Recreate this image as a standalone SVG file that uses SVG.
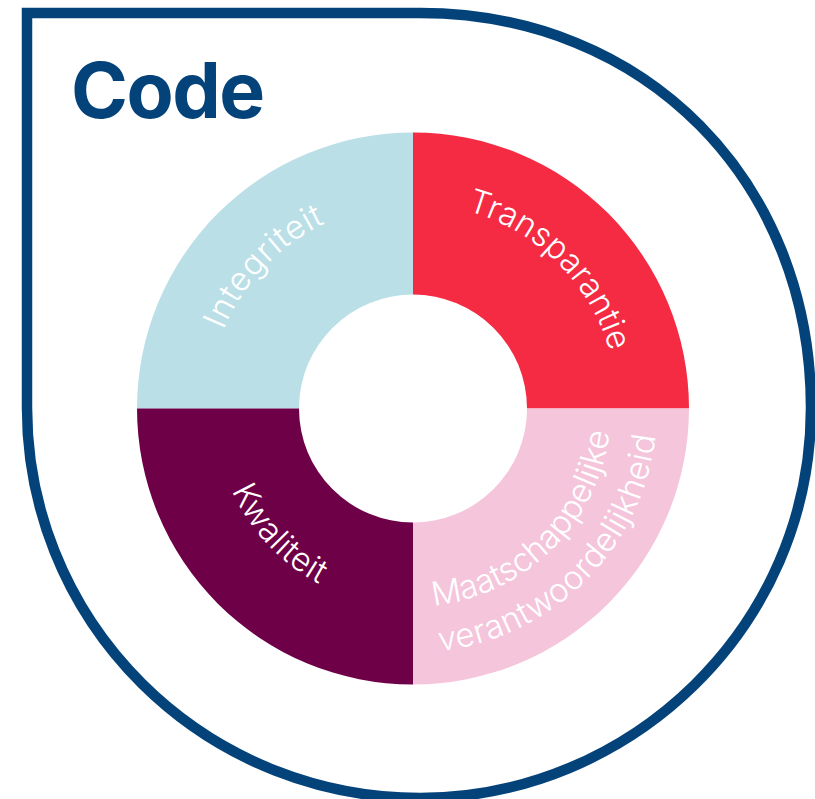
<svg xmlns="http://www.w3.org/2000/svg" width="815" height="799" viewBox="0 0 815 799">
<style>
.lab{font-family:"Inter","Liberation Sans",sans-serif;font-weight:300;font-size:33px;fill:#fff;text-anchor:middle}
</style>
<defs>
<path id="a2" d="M413 203.500A205 205 0 0 1 618 408.500"/>
<path id="a3" d="M214 408.500A199 199 0 0 0 413 607.500"/>
<path id="a4" d="M413 606.500A198 198 0 0 0 611 408.500"/>
<path id="a5" d="M413 652.500A244 244 0 0 0 657 408.500"/>
<path id="a6" d="M208 408.500A205 205 0 0 1 413 203.500"/>
</defs>
<rect width="815" height="799" fill="#fff"/>
<g id="frame"><path d="M27 13H420C645 13 811 181 811 408C811 627 630 798 420 798A393 390 0 0 1 27 408Z" fill="none" stroke="#04437a" stroke-width="10.500"/></g>
<g id="title"><text x="71" y="118" font-family="Inter,'Liberation Sans',sans-serif" font-weight="700" font-size="77" letter-spacing="-1.500" fill="#04437a">Code</text></g>
<g id="integriteit"><path d="M137 408.500A276 276 0 0 1 413 132.500V294.500A114 114 0 0 0 299 408.500Z" fill="#bbdfe7"/>
<text class="lab" letter-spacing="0.800"><textPath href="#a6" startOffset="48.500%">Integriteit</textPath></text></g>
<g id="transparantie"><path d="M413 132.500A276 276 0 0 1 689 408.500H527A114 114 0 0 0 413 294.500Z" fill="#f52a43"/>
<text class="lab"><textPath href="#a2" startOffset="49.500%">Transparantie</textPath></text></g>
<g id="maatschappelijke"><path d="M689 408.500A276 276 0 0 1 413 684.500V522.500A114 114 0 0 0 527 408.500Z" fill="#f5c5dc"/>
<text class="lab"><textPath href="#a4" startOffset="49.500%">Maatschappelijke</textPath></text>
<text class="lab" letter-spacing="0.500"><textPath href="#a5" startOffset="50%">verantwoordelijkheid</textPath></text></g>
<g id="kwaliteit"><path d="M137 408.500H299A114 114 0 0 0 413 522.500V684.500A276 276 0 0 1 137 408.500Z" fill="#6e0048"/>
<text class="lab" letter-spacing="0.500"><textPath href="#a3" startOffset="48%">Kwaliteit</textPath></text></g>
</svg>
